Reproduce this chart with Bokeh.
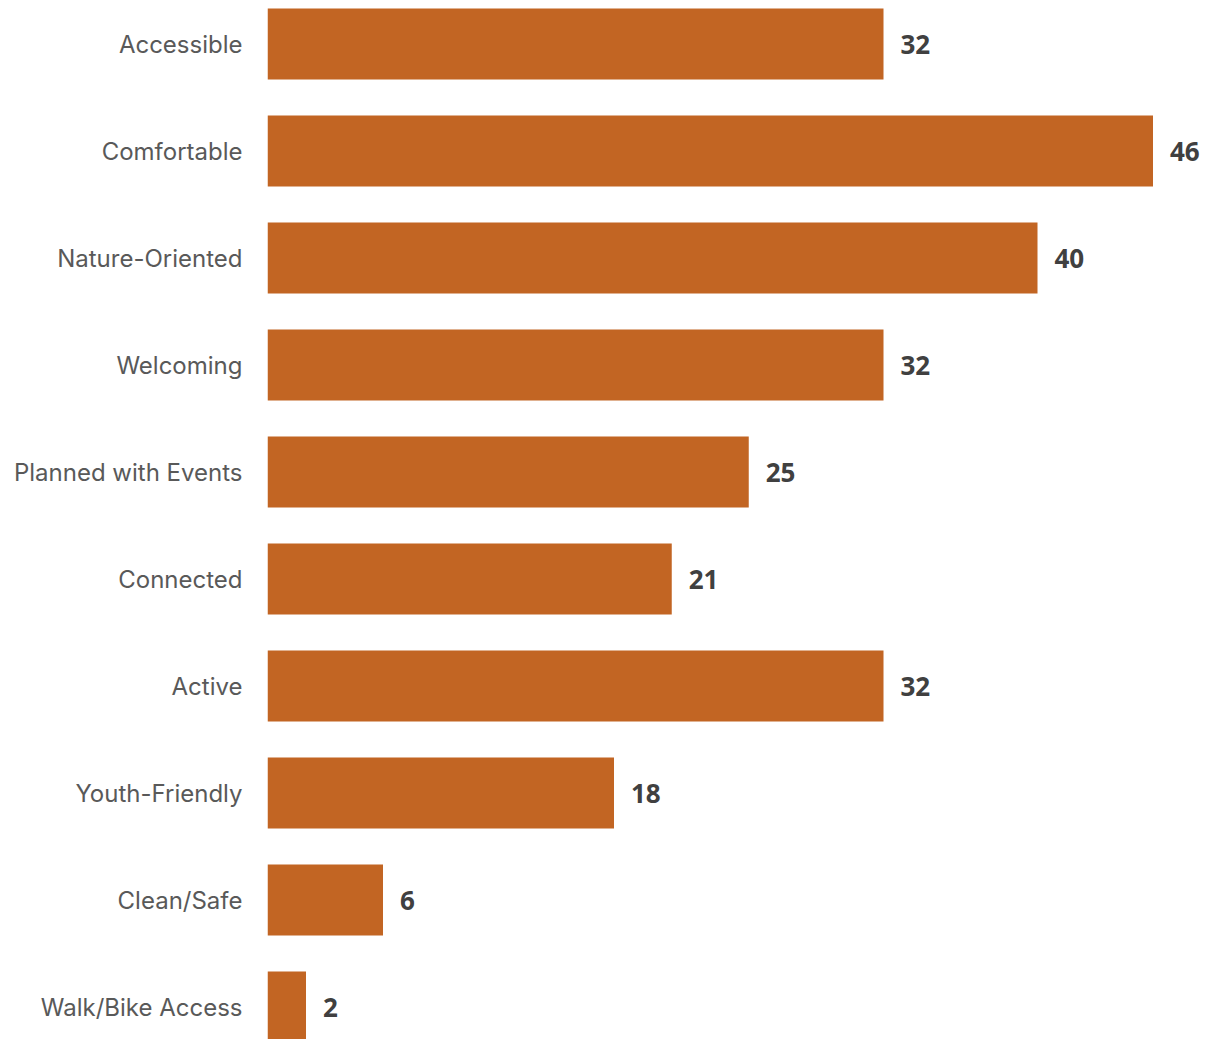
from bokeh.plotting import figure
from bokeh.models import Range1d, ColumnDataSource, FixedTicker
from bokeh.core.properties import value
from bokeh.embed import file_html
from bokeh.resources import INLINE

categories = ["Accessible", "Comfortable", "Nature-Oriented", "Welcoming",
              "Planned with Events", "Connected", "Active", "Youth-Friendly",
              "Clean/Safe", "Walk/Bike Access"]
counts = [32, 46, 40, 32, 25, 21, 32, 18, 6, 2]

pos = list(range(len(categories)))
src = ColumnDataSource(dict(y=pos, v=counts, lab=[str(c) for c in counts]))

W, H = 1206, 1039
LEFT = 267
px_per_unit_x = 19.25
px_per_unit_y = 107.0
top = -43.5 / px_per_unit_y
bottom = top + H / px_per_unit_y

p = figure(width=W, height=H, output_backend="svg", toolbar_location=None,
           x_range=Range1d(0, (W - LEFT) / px_per_unit_x),
           y_range=Range1d(bottom, top),
           min_border_left=LEFT, min_border_right=0, min_border_top=0, min_border_bottom=0)

p.hbar(y="y", right="v", left=0, height=71 / 107, source=src,
       fill_color="#C26523", line_color=None)

p.text(x="v", y="y", text="lab", source=src, x_offset=17,
       text_baseline="middle", text_align="left",
       text_font=value("Open Sans"), text_font_style="bold",
       text_font_size="26px", text_color="#404040")

p.xaxis.visible = False
ax = p.yaxis[0]
ax.ticker = FixedTicker(ticks=pos)
ax.major_label_overrides = {i: c for i, c in zip(pos, categories)}
ax.axis_line_color = None
ax.major_tick_line_color = None
ax.minor_tick_line_color = None
ax.major_tick_in = 0
ax.major_tick_out = 0
ax.major_label_standoff = 25
ax.major_label_text_font = "Inter"
ax.major_label_text_font_size = "24px"
ax.major_label_text_color = "#595959"

p.xgrid.visible = False
p.ygrid.visible = False
p.outline_line_color = None
p.background_fill_color = "white"
p.border_fill_color = "white"

open("out.html", "w").write(file_html(p, INLINE))
